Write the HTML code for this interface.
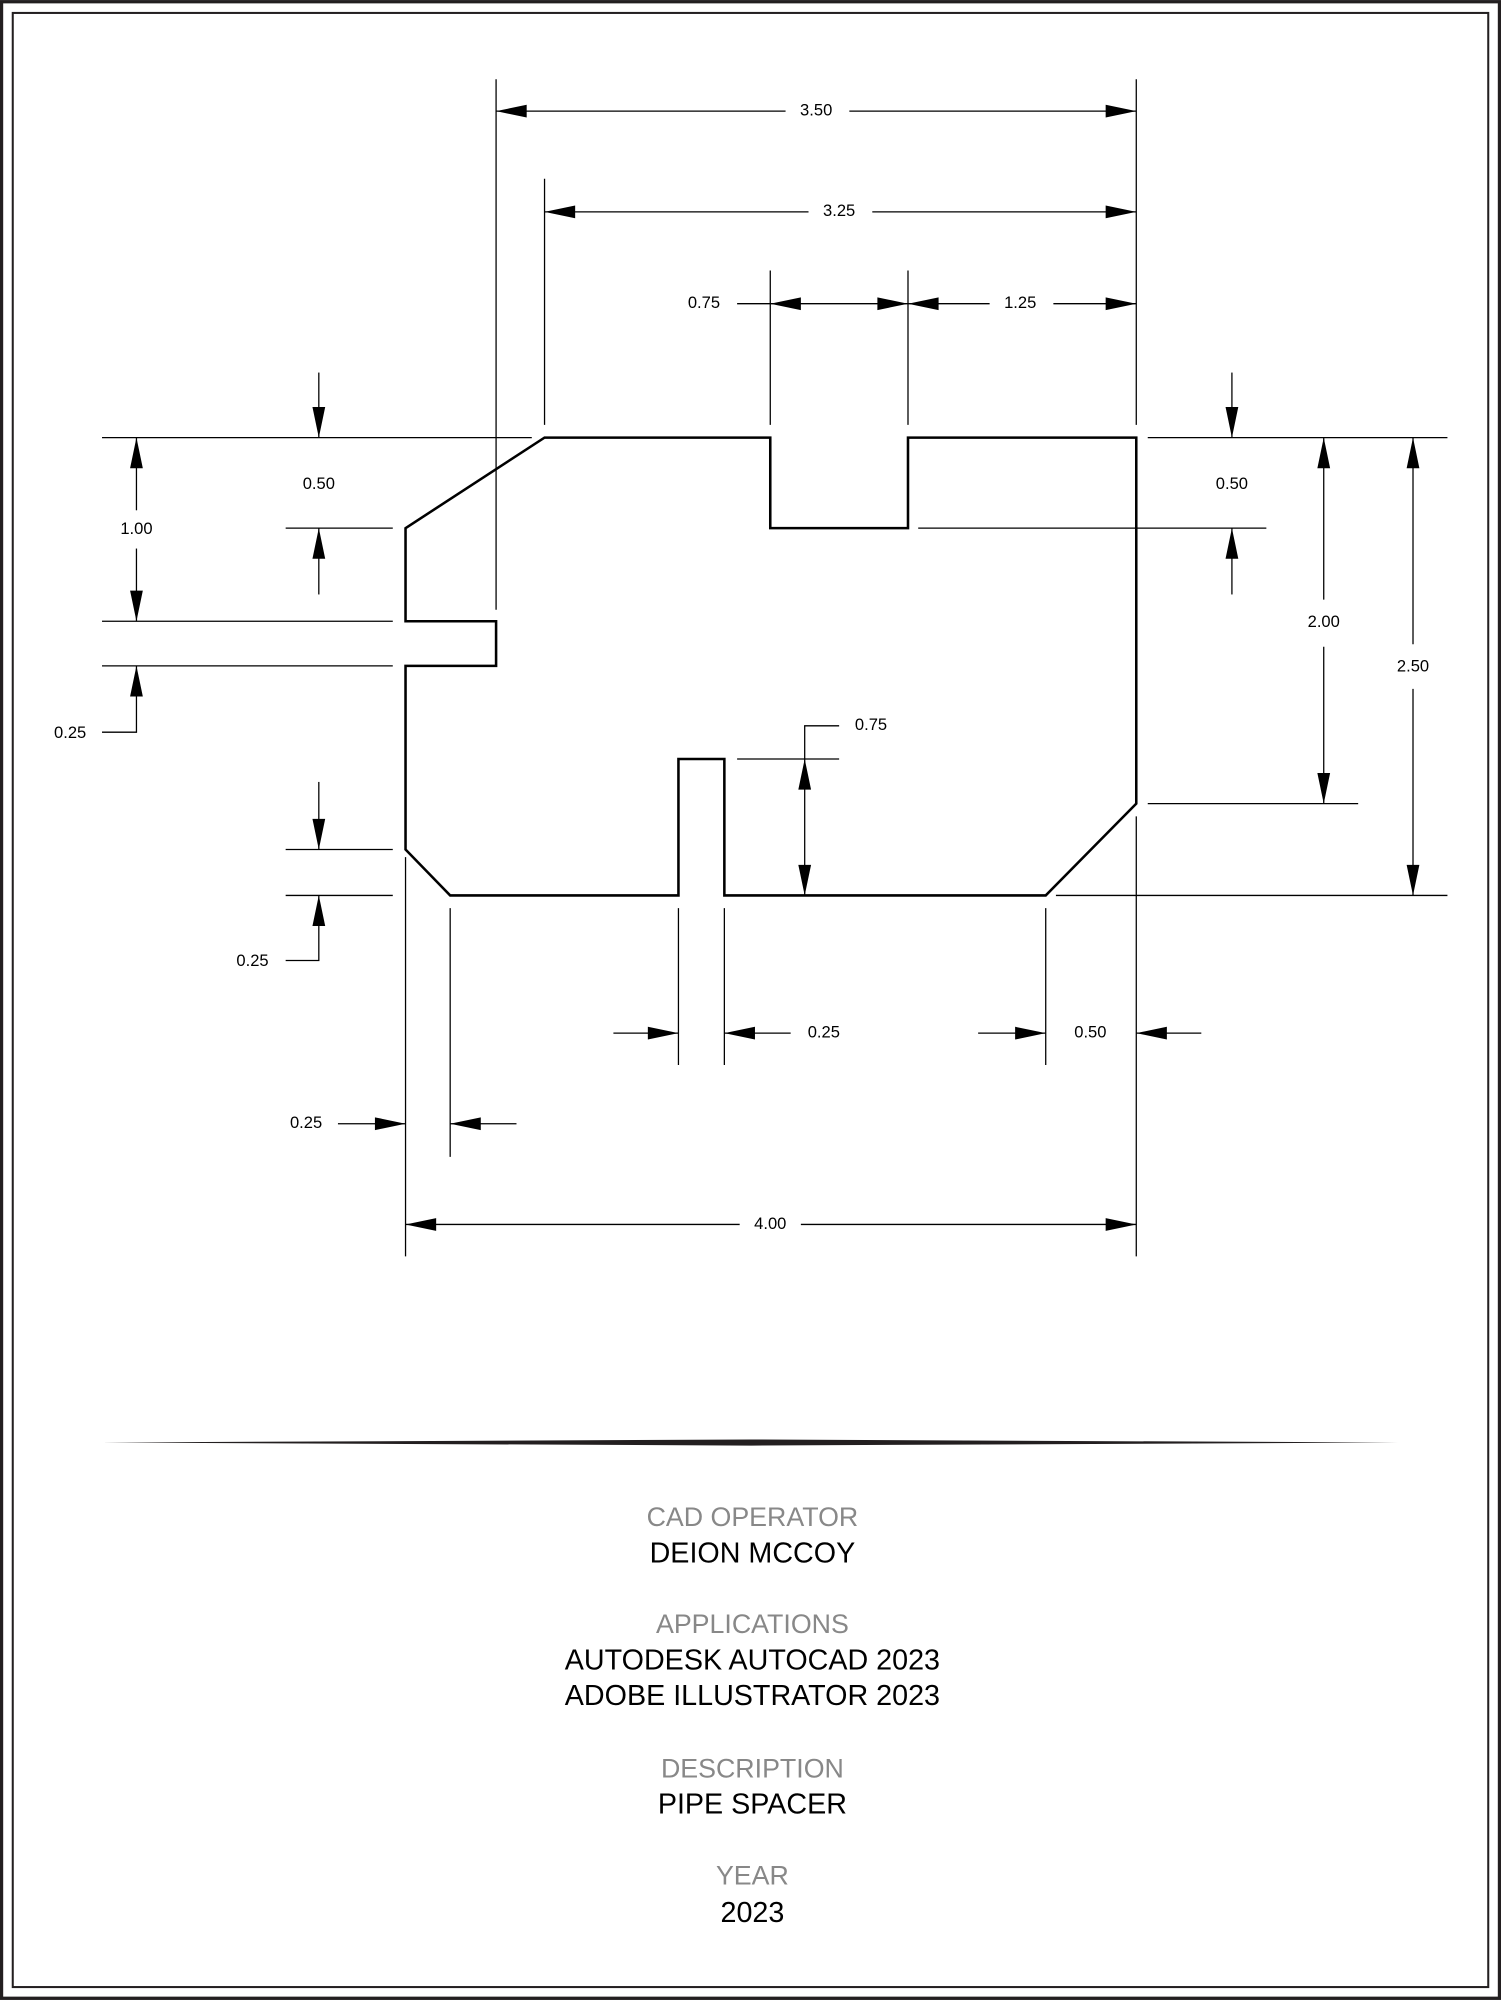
<!DOCTYPE html>
<html><head><meta charset="utf-8"><style>
html,body{margin:0;padding:0;background:#fff}
svg{display:block}
text{font-family:"Liberation Sans",sans-serif}
</style></head><body>
<svg width="1501" height="2000" viewBox="0 0 1177 1568" xmlns="http://www.w3.org/2000/svg">
<rect x="0" y="0" width="1177" height="1568" fill="#fff"/>
<rect x="1.2" y="1.2" width="1174.6" height="1565.6" fill="none" stroke="#231f20" stroke-width="2.6"/>
<rect x="10" y="10" width="1157" height="1548" fill="none" stroke="#231f20" stroke-width="1.6"/>

<g stroke="#000" stroke-width="1" fill="none">
<line x1="389" y1="62" x2="389" y2="478"/><line x1="891" y1="62" x2="891" y2="333"/>
<line x1="389" y1="87" x2="616" y2="87"/><line x1="666" y1="87" x2="891" y2="87"/>
<line x1="427" y1="140" x2="427" y2="333"/>
<line x1="427" y1="166" x2="634" y2="166"/><line x1="684" y1="166" x2="891" y2="166"/>
<line x1="604" y1="212" x2="604" y2="333"/><line x1="712" y1="212" x2="712" y2="333"/>
<line x1="578" y1="238" x2="712" y2="238"/><line x1="712" y1="238" x2="776" y2="238"/><line x1="826" y1="238" x2="891" y2="238"/>
<line x1="80" y1="343" x2="417" y2="343"/>
<line x1="250" y1="292" x2="250" y2="343"/><line x1="250" y1="414" x2="250" y2="466"/>
<line x1="224" y1="414" x2="308" y2="414"/>
<line x1="107" y1="343" x2="107" y2="400"/><line x1="107" y1="430" x2="107" y2="487"/>
<line x1="80" y1="487" x2="308" y2="487"/><line x1="80" y1="522" x2="308" y2="522"/>
<polyline points="107,522 107,574 80,574"/>
<line x1="224" y1="666" x2="308" y2="666"/><line x1="224" y1="702" x2="308" y2="702"/>
<line x1="250" y1="613" x2="250" y2="666"/>
<polyline points="250,702 250,753 224,753"/>
<line x1="318" y1="672" x2="318" y2="985"/><line x1="353" y1="712" x2="353" y2="907"/>
<line x1="265" y1="881" x2="318" y2="881"/><line x1="353" y1="881" x2="405" y2="881"/>
<line x1="891" y1="640" x2="891" y2="985"/>
<line x1="318" y1="960" x2="580" y2="960"/><line x1="628" y1="960" x2="891" y2="960"/>
<line x1="532" y1="712" x2="532" y2="835"/><line x1="568" y1="712" x2="568" y2="835"/>
<line x1="481" y1="810" x2="532" y2="810"/><line x1="568" y1="810" x2="620" y2="810"/>
<line x1="820" y1="712" x2="820" y2="835"/>
<line x1="767" y1="810" x2="820" y2="810"/><line x1="891" y1="810" x2="942" y2="810"/>
<line x1="578" y1="595" x2="658" y2="595"/>
<line x1="631" y1="595" x2="631" y2="702"/>
<polyline points="631,595 631,569 658,569"/>
<line x1="900" y1="343" x2="1135" y2="343"/>
<line x1="966" y1="292" x2="966" y2="343"/><line x1="966" y1="414" x2="966" y2="466"/>
<line x1="720" y1="414" x2="993" y2="414"/>
<line x1="1038" y1="343" x2="1038" y2="470"/><line x1="1038" y1="507" x2="1038" y2="630"/>
<line x1="900" y1="630" x2="1065" y2="630"/>
<line x1="1108" y1="343" x2="1108" y2="505"/><line x1="1108" y1="540" x2="1108" y2="702"/>
<line x1="828" y1="702" x2="1135" y2="702"/>
</g>

<path d="M427,343 L604,343 L604,414 L712,414 L712,343 L891,343 L891,630 L820,702 L568,702 L568,595 L532,595 L532,702 L353,702 L318,666 L318,522 L389,522 L389,487 L318,487 L318,414 Z" fill="none" stroke="#000" stroke-width="2"/>

<g fill="#000">
<polygon points="389,87 413,82 413,92"/>
<polygon points="427,166 451,161 451,171"/>
<polygon points="604,238 628,233 628,243"/>
<polygon points="712,238 736,233 736,243"/>
<polygon points="318,960 342,955 342,965"/>
<polygon points="353,881 377,876 377,886"/>
<polygon points="568,810 592,805 592,815"/>
<polygon points="891,810 915,805 915,815"/>
<polygon points="891,87 867,82 867,92"/>
<polygon points="891,166 867,161 867,171"/>
<polygon points="712,238 688,233 688,243"/>
<polygon points="891,238 867,233 867,243"/>
<polygon points="891,960 867,955 867,965"/>
<polygon points="318,881 294,876 294,886"/>
<polygon points="532,810 508,805 508,815"/>
<polygon points="820,810 796,805 796,815"/>
<polygon points="250,343 245,319 255,319"/>
<polygon points="107,487 102,463 112,463"/>
<polygon points="250,666 245,642 255,642"/>
<polygon points="631,702 626,678 636,678"/>
<polygon points="966,343 961,319 971,319"/>
<polygon points="1038,630 1033,606 1043,606"/>
<polygon points="1108,702 1103,678 1113,678"/>
<polygon points="250,414 245,438 255,438"/>
<polygon points="107,343 102,367 112,367"/>
<polygon points="107,522 102,546 112,546"/>
<polygon points="250,702 245,726 255,726"/>
<polygon points="631,595 626,619 636,619"/>
<polygon points="966,414 961,438 971,438"/>
<polygon points="1038,343 1033,367 1043,367"/>
<polygon points="1108,343 1103,367 1113,367"/>
</g>

<g font-size="13" fill="#000" text-anchor="middle" dominant-baseline="middle">
<text x="640" y="87">3.50</text>
<text x="658" y="166">3.25</text>
<text x="552" y="238">0.75</text>
<text x="800" y="238">1.25</text>
<text x="250" y="380">0.50</text>
<text x="107" y="415">1.00</text>
<text x="55" y="575">0.25</text>
<text x="198" y="754">0.25</text>
<text x="240" y="881">0.25</text>
<text x="604" y="960">4.00</text>
<text x="646" y="810">0.25</text>
<text x="855" y="810">0.50</text>
<text x="683" y="569">0.75</text>
<text x="966" y="380">0.50</text>
<text x="1038" y="488">2.00</text>
<text x="1108" y="523">2.50</text>
</g>

<polygon points="80,1131 589,1128.6 1098,1131 589,1133.4" fill="#231f20"/>

<g text-anchor="middle" dominant-baseline="middle" font-size="22.5">
<text x="590" y="1191" fill="#888" font-size="21">CAD OPERATOR</text>
<text x="590" y="1219" fill="#000">DEION MCCOY</text>
<text x="590" y="1275" fill="#888" font-size="21">APPLICATIONS</text>
<text x="590" y="1303" fill="#000">AUTODESK AUTOCAD 2023</text>
<text x="590" y="1331" fill="#000">ADOBE ILLUSTRATOR 2023</text>
<text x="590" y="1388" fill="#888" font-size="21">DESCRIPTION</text>
<text x="590" y="1416" fill="#000">PIPE SPACER</text>
<text x="590" y="1472" fill="#888" font-size="21">YEAR</text>
<text x="590" y="1501" fill="#000">2023</text>
</g>
</svg>
</body></html>
